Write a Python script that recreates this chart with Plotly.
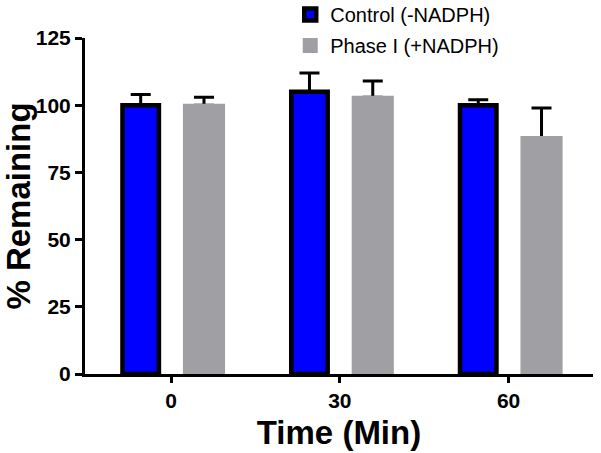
import plotly.graph_objects as go

categories = ["0", "30", "60"]
control_vals = [100, 105, 100]
control_err = [4, 7, 2]
phase1_vals = [100, 103, 88]
phase1_err = [3, 6, 11]
y_ticks = [0, 25, 50, 75, 100, 125]

FONT = "Arial, Liberation Sans, Helvetica, sans-serif"
xpos = list(range(len(categories)))
zeros = [0] * len(categories)

# bar geometry (style, not data)
C_OFF, C_W = -0.18, 0.216
P_OFF, P_W = 0.195, 0.232

fig = go.Figure()
# error bars first (transparent bars) so the real bars cover the lower cap
fig.add_trace(go.Bar(
    x=xpos, y=control_vals, offset=C_OFF - C_W / 2, width=C_W,
    marker=dict(color="rgba(0,0,0,0)", line=dict(width=0)), showlegend=False, hoverinfo="skip",
    error_y=dict(type="data", array=control_err, arrayminus=zeros, symmetric=False,
                 color="#000000", thickness=3, width=10),
))
fig.add_trace(go.Bar(
    x=xpos, y=phase1_vals, offset=P_OFF - P_W / 2, width=P_W,
    marker=dict(color="rgba(0,0,0,0)", line=dict(width=0)), showlegend=False, hoverinfo="skip",
    error_y=dict(type="data", array=phase1_err, arrayminus=zeros, symmetric=False,
                 color="#000000", thickness=3, width=10),
))
fig.add_trace(go.Bar(
    x=xpos, y=control_vals, offset=C_OFF - C_W / 2, width=C_W,
    name="Control (-NADPH)", legendgroup="a",
    marker=dict(color="#0000ff", line=dict(color="#000000", width=4.5)),
))
fig.add_trace(go.Bar(
    x=xpos, y=phase1_vals, offset=P_OFF - P_W / 2, width=P_W,
    name="Phase I (+NADPH)", legendgroup="b",
    marker=dict(color="#a0a0a4", line=dict(color="#a0a0a4", width=3)),
))

fig.update_layout(
    width=601, height=453,
    margin=dict(l=85, r=8, t=38, b=79, autoexpand=False),
    paper_bgcolor="white", plot_bgcolor="white",
    barmode="overlay",
    font=dict(family=FONT, color="#000000"),
    showlegend=True,
    legend=dict(x=0.404, y=1.128, xanchor="left", yanchor="top",
                font=dict(size=20, family=FONT), bgcolor="rgba(0,0,0,0)",
                traceorder="grouped", tracegroupgap=2, itemwidth=30),
    xaxis=dict(
        range=[-0.51, 2.5], tickvals=xpos, ticktext=categories,
        showline=True, linecolor="#000000", linewidth=3,
        ticks="outside", ticklen=6, tickwidth=2.5, tickcolor="#000000",
        tickfont=dict(size=21, family=FONT, weight="bold"),
        title=dict(text="<b>Time (Min)</b>", font=dict(size=33, family=FONT), standoff=10),
        showgrid=False, zeroline=False, automargin=False,
    ),
    yaxis=dict(
        range=[0, 125], tickvals=y_ticks,
        showline=True, linecolor="#000000", linewidth=3,
        ticks="outside", ticklen=7, tickwidth=2.5, tickcolor="#000000",
        tickfont=dict(size=21, family=FONT, weight="bold"),
        title=dict(text="<b>% Remaining</b>", font=dict(size=33, family=FONT), standoff=14),
        showgrid=False, zeroline=False, automargin=False,
    ),
)

fig.write_html("out.html", config={"displayModeBar": False},
               post_script="document.body.style.margin='0';document.body.style.overflow='hidden';")
